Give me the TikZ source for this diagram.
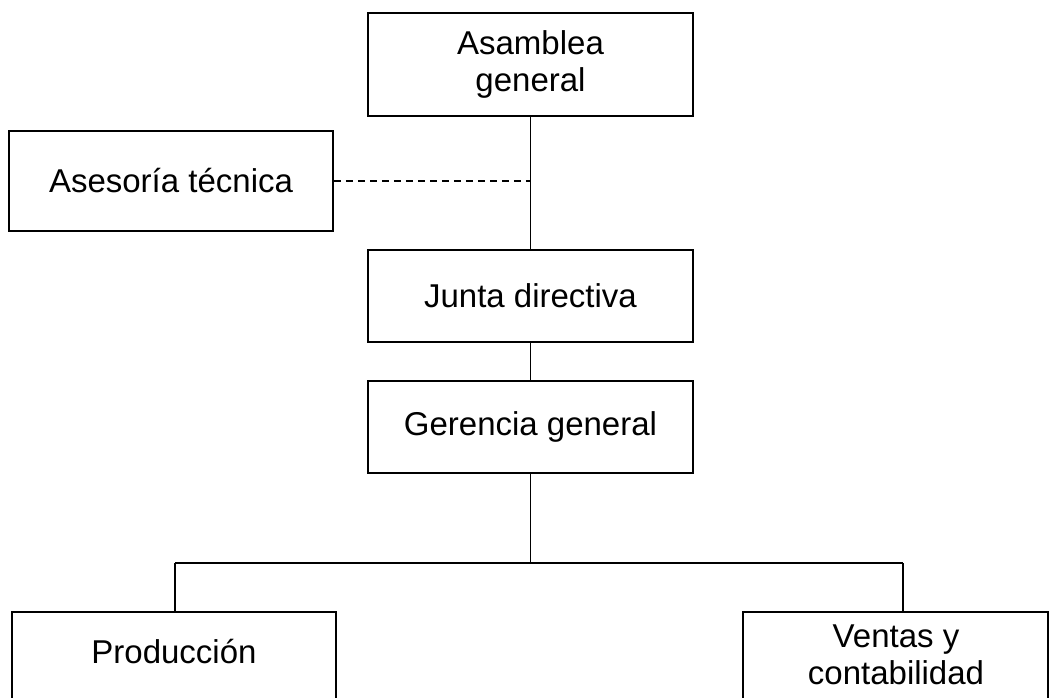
\documentclass[tikz,border=0pt]{standalone}
\usepackage{fontspec}
\setmainfont{Liberation Sans}
\begin{document}
\begin{tikzpicture}[x=1pt,y=-1pt,
  box/.style={draw=black, line width=1.8pt, fill=white, minimum width=325pt, inner sep=0pt,
    font=\fontsize{33}{36.5}\selectfont, align=center},
  txt/.style={inner sep=0pt, font=\fontsize{33}{36.5}\selectfont, align=center},
  conn/.style={line width=1.8pt},
  dline/.style={line width=1.5pt, dash pattern=on 7pt off 5pt}]
\useasboundingbox (0,0) rectangle (1054,698);
\fill[white] (0,0) rectangle (1054,698);
% boxes
\node[box, minimum height=103pt] (asam) at (530.5,64.5) {Asamblea\\general};
\node[box, minimum width=324pt, minimum height=100pt] (ases) at (171,181) {Asesoría técnica};
\node[box, minimum height=92pt] (junta) at (530.5,296) {Junta directiva};
\node[box, minimum height=92pt] (ger) at (530.5,427) {Gerencia general};
\node[box, minimum width=324pt, minimum height=120pt, anchor=north] (prod) at (174,611) {};
\node[txt] (prodt) at (174,652) {Producción};
\node[box, minimum width=305pt, minimum height=120pt, anchor=north] (vent) at (895.5,611) {};
\node[txt] (ventt) at (896,655) {Ventas y\\contabilidad};
% bus coordinates
\coordinate (busM) at (530.5,563);
\coordinate (busL) at (175,563);
\coordinate (busR) at (903,563);
% connectors
\draw[conn] (asam.south) -- (junta.north);
\draw[dline] (ases.east) -- (ases.east -| asam.south);
\draw[conn] (junta.south) -- (ger.north);
\draw[conn] (ger.south) -- (busM);
\draw[conn] (busL) -- (busR);
\draw[conn] (busL) -- (busL |- prod.north);
\draw[conn] (busR) -- (busR |- vent.north);
\end{tikzpicture}
\end{document}
